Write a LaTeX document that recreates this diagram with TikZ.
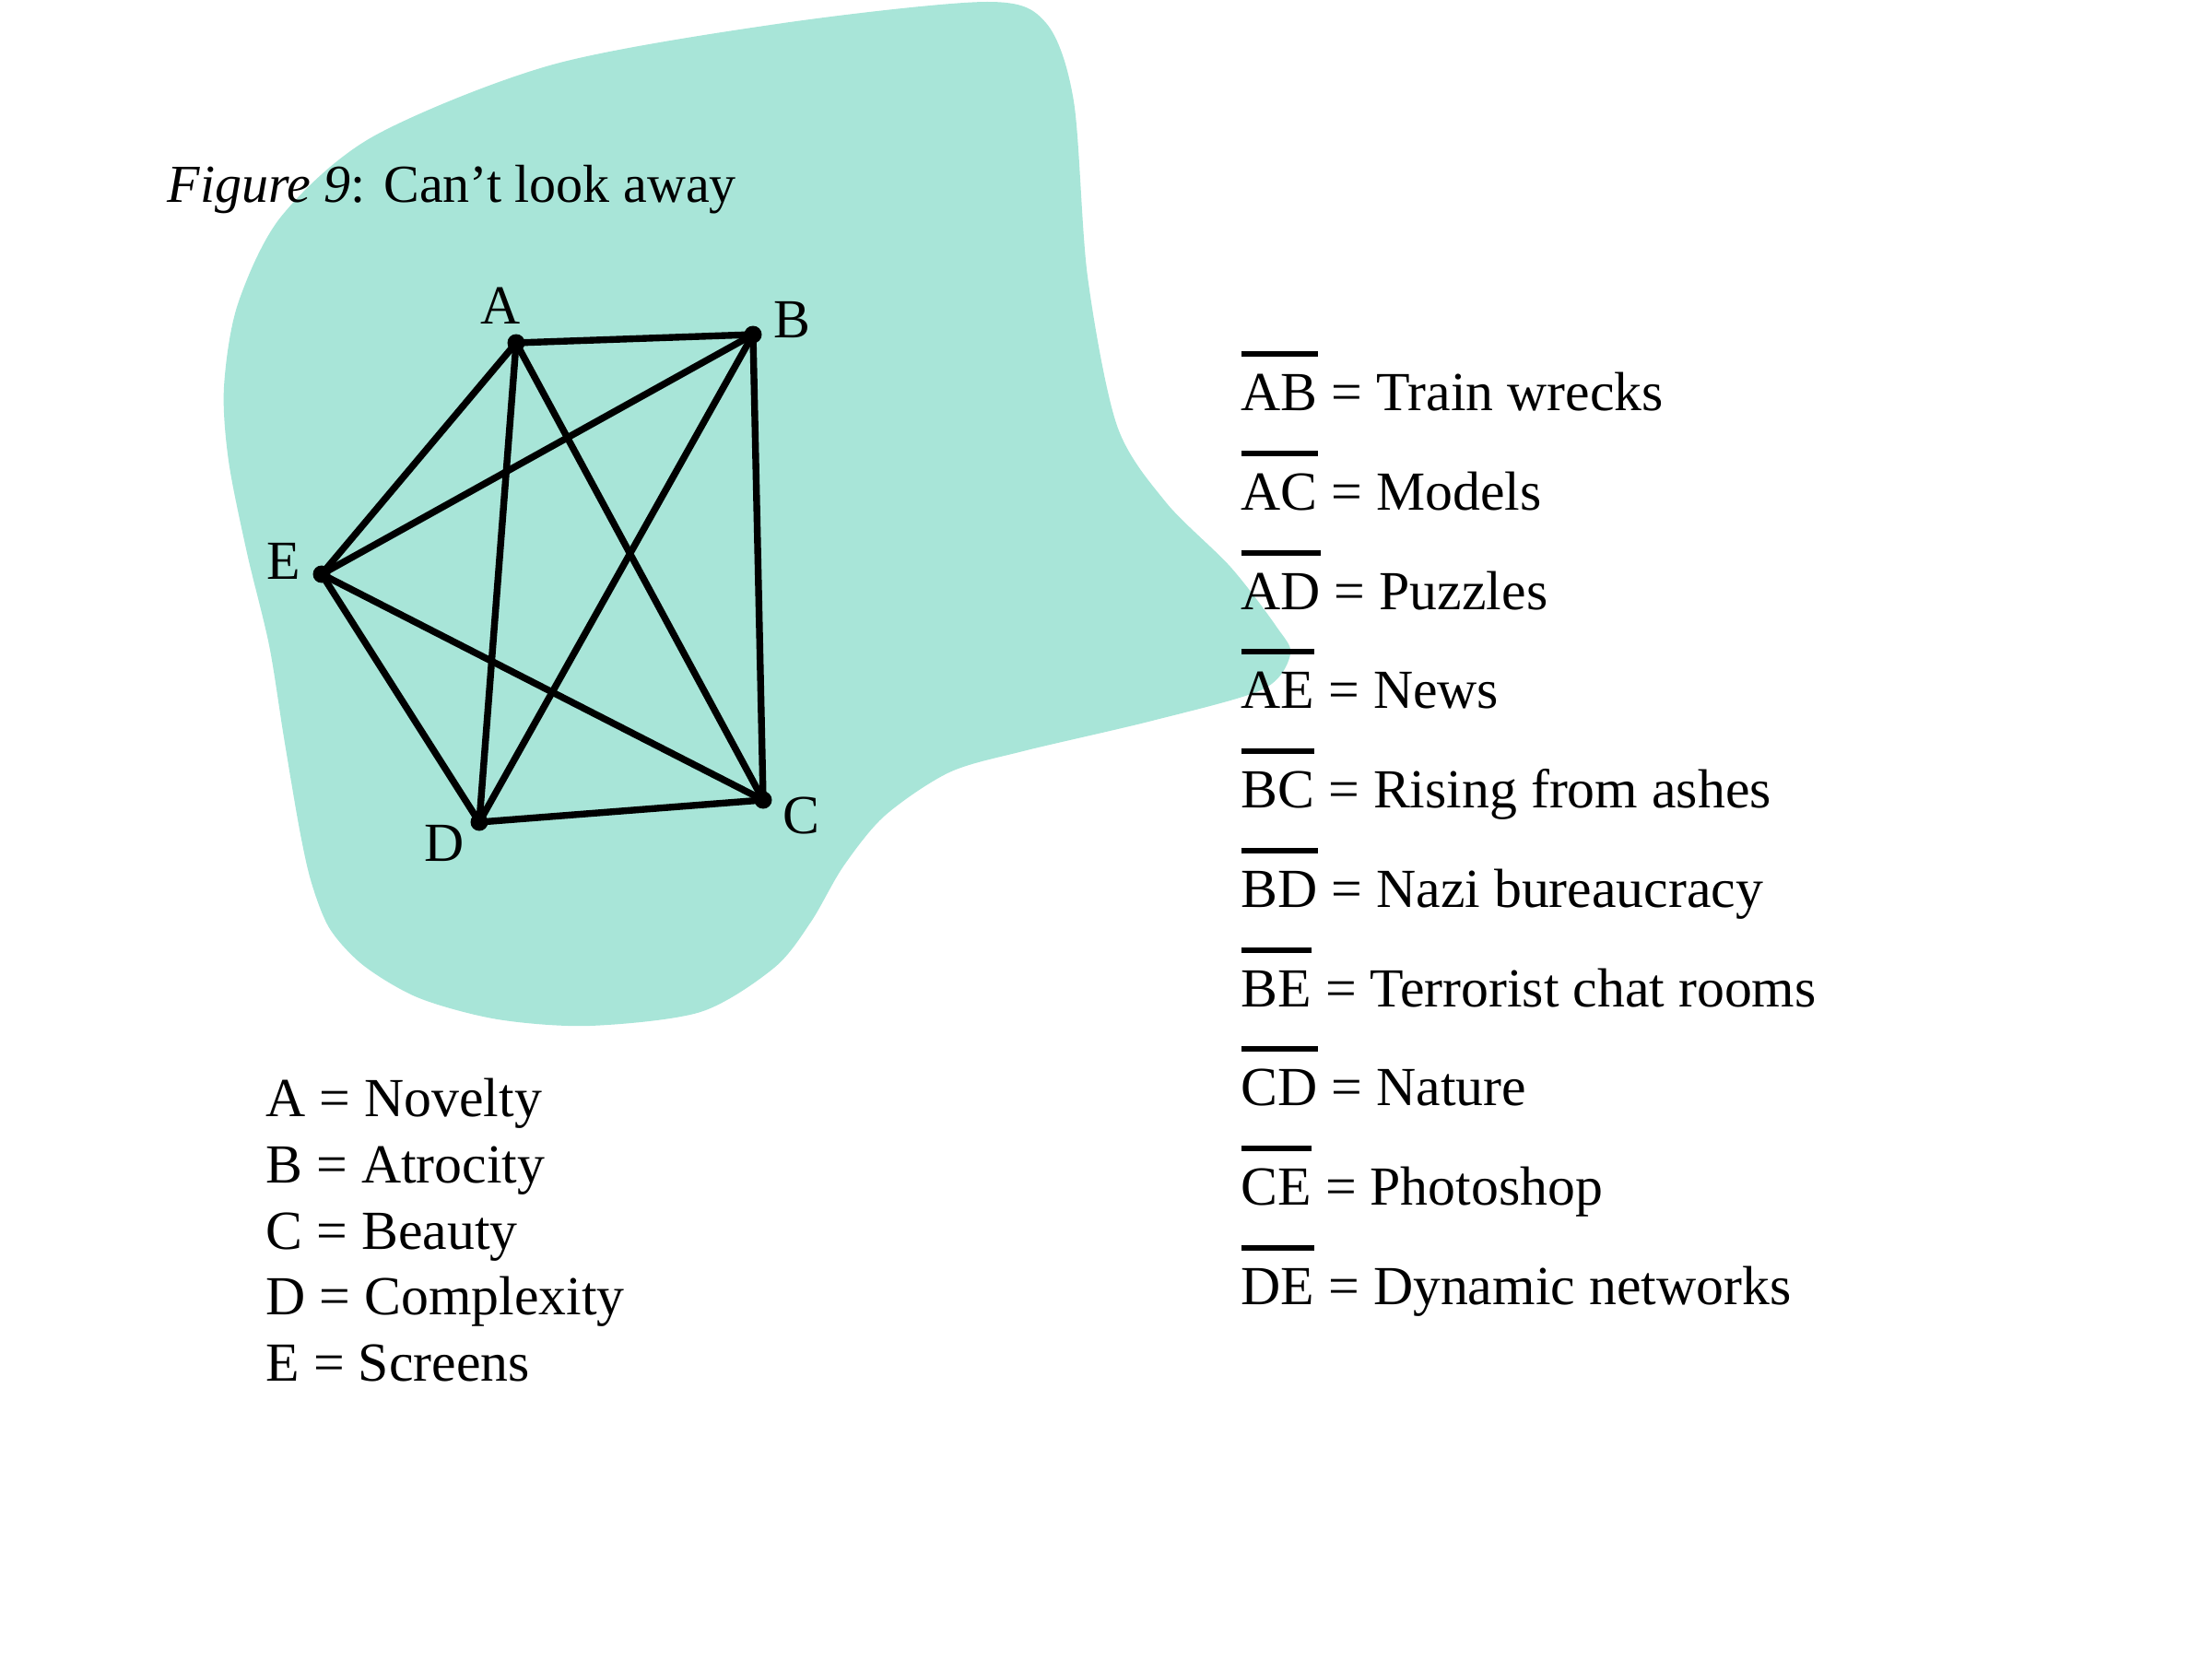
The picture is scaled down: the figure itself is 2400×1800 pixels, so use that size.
\documentclass[tikz,border=0pt]{standalone}
\usepackage{fontspec}
\setmainfont{Liberation Serif}
\usetikzlibrary{positioning}
\definecolor{blobteal}{RGB}{168,229,216}
% pair of letters with a bar over it
\newcommand{\edgebar}[1]{\setbox0\hbox{#1}\rlap{\raisebox{0.97em}{\rule{\wd0}{1.7pt}}}\box0\relax}

\begin{document}
\begin{tikzpicture}[x=0.01cm, y=-0.01cm, font=\fontsize{17}{20}\selectfont,
    vertex/.style={circle, fill=black, inner sep=0pt, minimum size=5.4pt},
    vlabel/.style={inner sep=0pt},
    edge/.style={line width=2.1pt, line cap=round},
    legend/.style={anchor=base west, inner sep=0pt}
]
\useasboundingbox (0,0) rectangle (2400,1800);

% background blob
\fill[blobteal] plot[smooth cycle] coordinates {
    (1071,2) (1135,25) (1165,110) (1180,300) (1212,462) (1265,545)
    (1335,615) (1385,680) (1400,710) (1370,748) (1250,782) (1110,815)
    (1030,838) (960,885) (915,940) (880,1000) (840,1050) (760,1098)
    (640,1113) (540,1106) (455,1083) (395,1048) (358,1008) (338,958)
    (325,900) (308,800) (292,700) (268,600) (248,500) (243,420)
    (258,330) (305,235) (405,148) (600,70) (850,25)};

\node[legend, font=\fontsize{16.5}{20}\selectfont] (title) at (181,219) {\textit{Figure 9}: Can’t look away};

% graph
\node[vertex] (A) at (560,372) {};
\node[vertex] (B) at (817,363) {};
\node[vertex] (C) at (828,868) {};
\node[vertex] (D) at (520,892) {};
\node[vertex] (E) at (349,623) {};

\node[vlabel] (la) at (543,332) {A};
\node[vlabel] (lb) at (859,347) {B};
\node[vlabel] (lc) at (869,885) {C};
\node[vlabel] (ld) at (482,915) {D};
\node[vlabel] (le) at (308,609) {E};

\foreach \u/\v in {A/B, A/C, A/D, A/E, B/C, B/D, B/E, C/D, C/E, D/E}
    \draw[edge] (\u.center) -- (\v.center);

% vertex legend
\node[legend] (na) at (288,1211) {A = Novelty};
\node[legend] (nb) at (288,1283) {B = Atrocity};
\node[legend] (nc) at (288,1355) {C = Beauty};
\node[legend] (nd) at (288,1426) {D = Complexity};
\node[legend] (ne) at (288,1498) {E = Screens};

% edge legend
\node[legend] (ab) at (1346,445) {\edgebar{AB} = Train wrecks};
\node[legend] (ac) at (1346,553) {\edgebar{AC} = Models};
\node[legend] (ad) at (1346,661) {\edgebar{AD} = Puzzles};
\node[legend] (ae) at (1346,768) {\edgebar{AE} = News};
\node[legend] (bc) at (1346,876) {\edgebar{BC} = Rising from ashes};
\node[legend] (bd) at (1346,984) {\edgebar{BD} = Nazi bureaucracy};
\node[legend] (be) at (1346,1092) {\edgebar{BE} = Terrorist chat rooms};
\node[legend] (cd) at (1346,1199) {\edgebar{CD} = Nature};
\node[legend] (ce) at (1346,1307) {\edgebar{CE} = Photoshop};
\node[legend] (de) at (1346,1415) {\edgebar{DE} = Dynamic networks};
\end{tikzpicture}
\end{document}
